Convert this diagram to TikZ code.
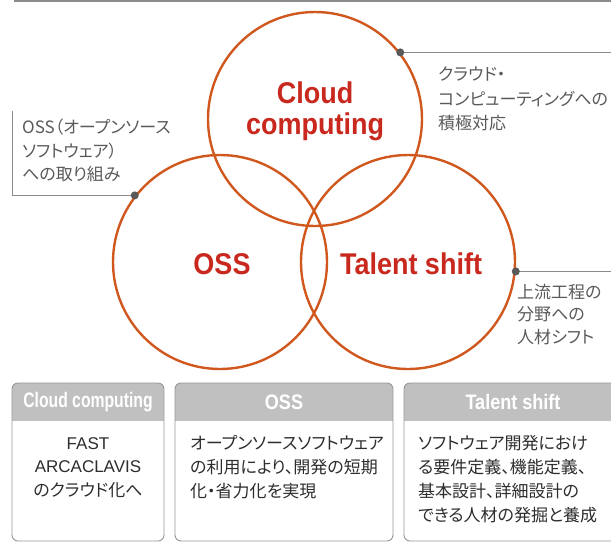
\documentclass[tikz,border=0pt]{standalone}
\usepackage{fontspec}
\setmainfont{Liberation Sans}
\newfontfamily\jpfont[RawFeature=+palt]{Noto Sans CJK JP}
\newfontfamily\condfont[FakeStretch=0.9]{Liberation Sans}
\newfontfamily\narrowfont[FakeStretch=0.86]{Liberation Sans}
\newfontfamily\tightfont[FakeStretch=0.75]{Liberation Sans}
\definecolor{vennline}{RGB}{208,88,30}
\definecolor{venntext}{RGB}{200,40,30}
\definecolor{notegray}{RGB}{90,90,90}
\definecolor{rulegray}{RGB}{140,140,140}
\definecolor{headgray}{RGB}{192,192,192}
\definecolor{framegray}{RGB}{150,150,150}
\definecolor{bodytext}{RGB}{45,45,45}
\begin{document}
\begin{tikzpicture}[x=1pt,y=-1pt,
  venn/.style={circle,draw=vennline,line width=2.4pt,minimum size=214pt,inner sep=0pt},
  vennlabel/.style={text=venntext,font=\condfont\bfseries\fontsize{30}{31}\selectfont,align=center,inner sep=0pt},
  note/.style={text=notegray,font=\jpfont\fontsize{17}{23.5}\selectfont,align=left,anchor=north west,inner sep=0pt},
  leader/.style={draw=rulegray,line width=1pt},
  tack/.style={circle,fill=black!65,inner sep=0pt,minimum size=8pt},
  headtext/.style={text=white,inner sep=0pt},
  bodybox/.style={text=bodytext,font=\jpfont\fontsize{17}{24}\selectfont,inner sep=0pt,anchor=north west,align=left}]
  \useasboundingbox (0,0) rectangle (611,542);
  \clip (0,0) rectangle (611,542);
  \coordinate (rightedge) at (611,0);
  \coordinate (topleft) at (14,1);
  \coordinate (osscorner) at (12,0);
  \draw[rulegray,line width=1.6pt] (topleft) -- (topleft -| rightedge);

  % three overlapping circles
  \node[venn] (cloud) at (315,119) {};
  \node[venn] (oss) at (220,262) {};
  \node[venn] (talent) at (408,262) {};
  \node[vennlabel] (cloudlabel) at (315,111) {Cloud\\computing};
  \node[vennlabel] (osslabel) at (222,264) {OSS};
  \node[vennlabel] (talentlabel) at (411,264) {Talent shift};

  % leader lines to the notes
  \coordinate (clouddot) at (cloud.38);
  \coordinate (ossdot) at (oss.142);
  \coordinate (talentdot) at (talent.-5);
  \draw[leader] (clouddot) -- (clouddot -| rightedge);
  \draw[leader] (talentdot) -- (talentdot -| rightedge);
  \draw[leader] (ossdot) -- (ossdot -| osscorner) -- ++(0,-84);
  \node[tack] at (clouddot) {};
  \node[tack] at (ossdot) {};
  \node[tack] at (talentdot) {};
  \node[note,font=\jpfont\fontsize{17}{24.5}\selectfont] (cloudnote) at (438,67) {クラウド・\\コンピューティングへの\\積極対応};
  \node[note] (ossnote) at (22,119) {OSS（オープンソース\\ソフトウェア）\\への取り組み};
  \node[note,font=\jpfont\fontsize{17}{22.5}\selectfont] (talentnote) at (517,284) {上流工程の\\分野への\\人材シフト};

  % boxes below
  \foreach \x/\w/\title/\hf in {12/152/Cloud computing/\tightfont,175/218/OSS/\narrowfont,404/218/Talent shift/\narrowfont} {
    \begin{scope}
      \clip[rounded corners=6pt] (\x,383) rectangle ++(\w,158);
      \fill[headgray] (\x,383) rectangle ++(\w,38);
    \end{scope}
    \draw[framegray,line width=0.9pt,rounded corners=6pt] (\x,383) rectangle ++(\w,158);
    \node[headtext,font=\hf\bfseries\fontsize{21}{22}\selectfont] at ({\x+\w/2},402) {\title};
  }
  \node[text=bodytext,font=\fontsize{17}{23.5}\selectfont,align=center,inner sep=0pt,anchor=north] (cloudtext) at (88,437) {FAST\\ARCACLAVIS\\{\jpfont のクラウド化へ}};
  \node[bodybox] (osstext) at (190,435) {オープンソースソフトウェア\\の利用により、開発の短期\\化・省力化を実現};
  \node[bodybox] (talenttext) at (418,435) {ソフトウェア開発におけ\\る要件定義、機能定義、\\基本設計、詳細設計の\\できる人材の発掘と養成};
\end{tikzpicture}
\end{document}
